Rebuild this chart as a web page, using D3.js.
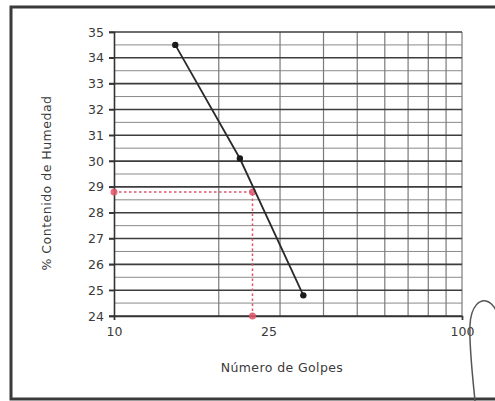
<!DOCTYPE html>
<html>
<head>
<meta charset="utf-8">
<script src="https://cdn.jsdelivr.net/npm/d3@7"></script>
<style>
  html, body { margin: 0; padding: 0; background: #fff; }
  svg { display: block; }
  text { font-family: "DejaVu Sans", "Liberation Sans", Arial, sans-serif; fill: #3a3a3a; }
</style>
</head>
<body>
<svg id="chart" width="495" height="401"></svg>
<script>
// Curva de fluidez: número de golpes vs. contenido de humedad
const golpes = [15, 23, 35];
const humedad = [34.5, 30.1, 24.8];

// Lectura del límite líquido a 25 golpes
const golpesReferencia = 25;
const limiteLiquido = 28.8;

const xTickValues = [10, 25, 100];
const xTickLabels = ["10", "25", "100"];
const xGridValues = [20, 30, 40, 50, 60, 70, 80, 90, 100];
const yTickValues = [24, 25, 26, 27, 28, 29, 30, 31, 32, 33, 34, 35];
const yMinorValues = [24.5, 25.5, 26.5, 27.5, 28.5, 29.5, 30.5, 31.5, 32.5, 33.5, 34.5];

const FONT = "DejaVu Sans, Liberation Sans, Arial, sans-serif";
const svg = d3.select("#chart");

const x = d3.scaleLog().domain([10, 100]).range([114, 462]);
const y = d3.scaleLinear().domain([24, 35]).range([316, 32]);

// marco exterior
svg.append("rect")
  .attr("x", 11).attr("y", 7)
  .attr("width", 500).attr("height", 392)
  .attr("fill", "none").attr("stroke", "#3a3a3a").attr("stroke-width", 3);

const grid = svg.append("g");

// líneas horizontales secundarias
grid.selectAll("line.minor").data(yMinorValues).enter().append("line")
  .attr("class", "minor")
  .attr("x1", x(10)).attr("x2", x(100))
  .attr("y1", d => y(d)).attr("y2", d => y(d))
  .attr("stroke", "#8a8a8a").attr("stroke-width", 1);

// líneas verticales (escala logarítmica)
grid.selectAll("line.vx").data(xGridValues).enter().append("line")
  .attr("class", "vx")
  .attr("x1", d => x(d)).attr("x2", d => x(d))
  .attr("y1", y(35)).attr("y2", y(24))
  .attr("stroke", "#7a7a7a").attr("stroke-width", 1.2);

// líneas horizontales principales
grid.selectAll("line.major").data(yTickValues).enter().append("line")
  .attr("class", "major")
  .attr("x1", x(10) - 5).attr("x2", x(100))
  .attr("y1", d => y(d)).attr("y2", d => y(d))
  .attr("stroke", "#3d3d3d").attr("stroke-width", 1.6);

// eje vertical
const yAxis = d3.axisLeft(y).tickValues(yTickValues).tickSize(5).tickPadding(5);
const gy = svg.append("g").attr("transform", `translate(${x(10)},0)`).call(yAxis);
gy.select(".domain").attr("stroke", "#333").attr("stroke-width", 1.6);
gy.selectAll(".tick line").attr("stroke", "#333").attr("stroke-width", 1.4);
gy.selectAll(".tick text")
  .attr("font-family", FONT)
  .attr("font-size", 12.5).attr("fill", "#555");

// eje horizontal
const xAxis = d3.axisBottom(x).tickValues(xTickValues)
  .tickFormat((d, i) => xTickLabels[i]).tickSize(4).tickPadding(7);
const gx = svg.append("g").attr("transform", `translate(0,${y(24)})`).call(xAxis);
gx.select(".domain").attr("stroke", "#333").attr("stroke-width", 1.6);
gx.selectAll(".tick line").attr("stroke", "#333").attr("stroke-width", 1.2)
  .attr("opacity", d => d === golpesReferencia ? 0 : 1);
gx.selectAll(".tick text")
  .attr("font-family", FONT)
  .attr("font-size", 12.5).attr("fill", "#555")
  .attr("dx", d => d === golpesReferencia ? 16 : 0);

// lectura a 25 golpes
const red = "#e0556a";
svg.append("path")
  .attr("d", d3.line()([
    [x(10), y(limiteLiquido)],
    [x(golpesReferencia), y(limiteLiquido)],
    [x(golpesReferencia), y(24)]
  ]))
  .attr("fill", "none").attr("stroke", red).attr("stroke-width", 1.5)
  .attr("stroke-dasharray", "2.5,2.5");

svg.selectAll("circle.ref").data([
  [10, limiteLiquido], [golpesReferencia, limiteLiquido], [golpesReferencia, 24]
]).enter().append("circle")
  .attr("class", "ref")
  .attr("cx", d => x(d[0])).attr("cy", d => y(d[1])).attr("r", 3.5)
  .attr("fill", red).attr("opacity", 0.85);

// curva de fluidez
const puntos = golpes.map((g, i) => [g, humedad[i]]);
svg.append("path")
  .datum(puntos)
  .attr("d", d3.line().x(d => x(d[0])).y(d => y(d[1])))
  .attr("fill", "none").attr("stroke", "#2a2a2a").attr("stroke-width", 1.8);

svg.selectAll("circle.pt").data(puntos).enter().append("circle")
  .attr("class", "pt")
  .attr("cx", d => x(d[0])).attr("cy", d => y(d[1])).attr("r", 3.2)
  .attr("fill", "#1a1a1a");

// títulos de ejes
svg.append("text")
  .attr("transform", `translate(51,${(y(35) + y(24)) / 2 + 9}) rotate(-90)`)
  .attr("text-anchor", "middle")
  .attr("font-family", FONT)
  .attr("font-size", 12.5).attr("letter-spacing", 0.5).attr("fill", "#333")
  .text("% Contenido de Humedad");

svg.append("text")
  .attr("x", 282).attr("y", 372)
  .attr("text-anchor", "middle")
  .attr("font-family", FONT)
  .attr("font-size", 12.5).attr("letter-spacing", 0.4).attr("fill", "#333")
  .text("Número de Golpes");

// trazo a mano en el margen derecho
svg.append("path")
  .attr("d", "M475,401 C472,370 469,345 470,325 C471,305 480,300 486,301 C491,302 494,306 497,312")
  .attr("fill", "none").attr("stroke", "#555").attr("stroke-width", 1.5);
</script>
</body>
</html>
